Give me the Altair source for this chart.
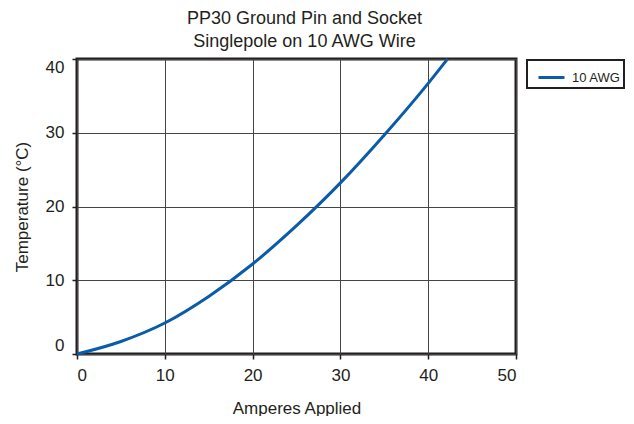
import altair as alt
import pandas as pd

amperes = [0, 5, 10, 15, 20, 25, 30, 35, 40, 42.2]
temperature = [0, 1.7, 4.2, 7.8, 12.2, 17.4, 23.2, 29.7, 36.7, 40]
series_name = "10 AWG"
x_ticks = [0, 10, 20, 30, 40, 50]
y_ticks = [0, 10, 20, 30, 40]

df = pd.DataFrame({"Amperes": amperes, "Temp": temperature,
                   "Series": [series_name] * len(amperes)})

FONT = "Liberation Sans Narrow, Arial Narrow, Liberation Sans, Arial, sans-serif"
W, H = 439, 295

chart = alt.Chart(df).mark_line(strokeWidth=3, interpolate="monotone").encode(
    x=alt.X("Amperes:Q",
            scale=alt.Scale(domain=[0, 50], nice=False),
            axis=alt.Axis(values=x_ticks, title="Amperes Applied", labelFlush=True,
                          titleX=W / 2, titleY=54, titleBaseline="middle",
                          labelPadding=8)),
    y=alt.Y("Temp:Q",
            scale=alt.Scale(domain=[0, 40], nice=False),
            axis=alt.Axis(values=y_ticks, title="Temperature (°C)", labelFlush=True,
                          titleX=-55, titleY=H / 2, titleAngle=-90,
                          titleBaseline="middle", titleAlign="center",
                          labelPadding=8)),
    color=alt.Color("Series:N",
                    scale=alt.Scale(domain=[series_name], range=["#0b5ca8"]),
                    legend=alt.Legend(title=None, orient="none", legendX=450, legendY=1,
                                      symbolType="stroke", symbolSize=676,
                                      symbolStrokeWidth=3, symbolOffset=7,
                                      labelFontSize=13,
                                      labelFont=FONT, labelColor="#231f20",
                                      labelOffset=6, padding=3,
                                      strokeColor="#231f20")),
).properties(
    width=W, height=H,
    title=alt.Title(["PP30 Ground Pin and Socket", "Singlepole on 10 AWG Wire"],
                    fontSize=18, font=FONT, fontWeight="normal", color="#231f20",
                    lineHeight=23, anchor="middle", frame="group", dx=8, dy=24,
                    baseline="alphabetic", offset=12),
    autosize=alt.AutoSizeParams(type="none"),
    padding={"left": 69, "top": 51, "right": 110, "bottom": 62},
).configure_view(
    stroke="#231f20", strokeWidth=3
).configure_axis(
    domain=False, grid=True, gridColor="#444", gridWidth=1,
    tickColor="#231f20", tickSize=5, tickWidth=1.5,
    labelFont=FONT, labelFontSize=17, labelColor="#231f20",
    titleFont=FONT, titleFontSize=17, titleFontWeight="normal", titleColor="#231f20",
).configure_legend(
    strokeWidth=2
)

chart.save("out.html", embed_options={"renderer": "svg", "actions": False})
